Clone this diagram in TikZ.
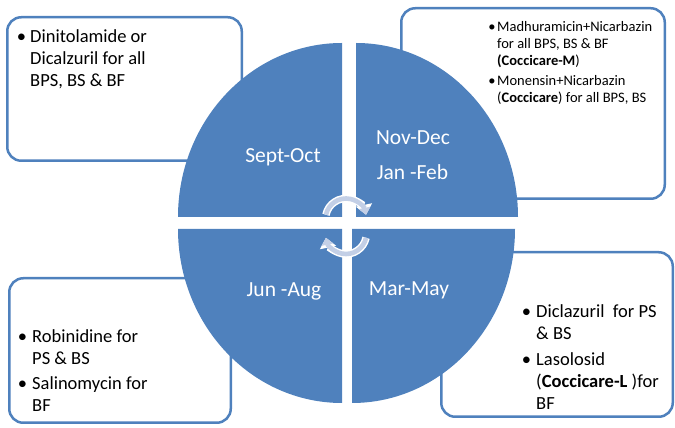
\documentclass[tikz,border=0pt]{standalone}
\usepackage{fontspec}
\setmainfont{Carlito}
\usetikzlibrary{arrows.meta}
\definecolor{qblue}{HTML}{4F81BD}
\definecolor{arrcol}{HTML}{C3CFE6}
\tikzset{
  box/.style={draw=qblue, line width=2.5pt, rounded corners=14pt, fill=white, inner sep=0pt},
  quad/.style={fill=qblue, draw=none},
  lbl/.style={text=white, anchor=base, inner sep=0pt, font=\fontsize{21.5}{26}\selectfont},
  txt/.style={anchor=base west, align=left, inner sep=0pt, font=\fontsize{18.5}{22}\selectfont},
  smalltxt/.style={anchor=base west, align=left, inner sep=0pt, font=\fontsize{14.5}{17}\selectfont},
  arrout/.style={line width=7.5pt, white, -{Triangle[width=16pt,length=10pt]}},
  arrin/.style={line width=4.6pt, arrcol, -{Triangle[width=11.5pt,length=7pt]}}
}
\begin{document}
\begin{tikzpicture}[x=1pt,y=1pt]
\useasboundingbox (0,0) rectangle (675,428);
% boxes
\node[box, minimum width=234.5pt, minimum height=143.5pt] (b1) at (124.5,339) {};
\node[box, minimum width=263.5pt, minimum height=190.5pt] (b2) at (533,324.5) {};
\node[box, minimum width=221.5pt, minimum height=144.5pt] (b3) at (120,77.5) {};
\node[box, minimum width=231.5pt, minimum height=164.5pt] (b4) at (557,93.5) {};
% quadrants
\path[quad] (342,211) -- (178,211) arc[start angle=180, end angle=90, x radius=164pt, y radius=174pt] -- cycle;
\path[quad] (356,211) -- (356,385) arc[start angle=90, end angle=0, x radius=162pt, y radius=174pt] -- cycle;
\path[quad] (342,199) -- (178,199) arc[start angle=180, end angle=270, x radius=164pt, y radius=174pt] -- cycle;
\path[quad] (352,199) -- (352,25) arc[start angle=270, end angle=360, x radius=163pt, y radius=174pt] -- cycle;
% labels
\node[lbl] (l1) at (283,265.3) {Sept-Oct};
\node[lbl] (l2) at (413,283) {Nov-Dec};
\node[lbl] (l2b) at (412.5,248) {Jan -Feb};
\node[lbl] (l3) at (284,131) {Jun -Aug};
\node[lbl] (l4) at (409,132) {Mar-May};
% cycle arrows
\coordinate (ca) at (346,209);
\coordinate (cb) at (346,194.5);
\draw[arrout] ([shift={(168:20.5pt)}]ca) arc[start angle=168, end angle=12, radius=20.5pt];
\draw[arrin] ([shift={(168:20.5pt)}]ca) arc[start angle=168, end angle=12, radius=20.5pt];
\draw[arrout] ([shift={(-12:20.5pt)}]cb) arc[start angle=-12, end angle=-168, radius=20.5pt];
\draw[arrin] ([shift={(-12:20.5pt)}]cb) arc[start angle=-12, end angle=-168, radius=20.5pt];
% texts (anchored at the baseline of their last line)
\node[txt] (t1) at (30,341) {\llap{•\hspace{4pt}}Dinitolamide or\\Dicalzuril for all\\BPS, BS \& BF};
\node[smalltxt] (t2) at (497,325.3) {\llap{•\hspace{1.5pt}}Madhuramicin+Nicarbazin\\for all BPS, BS \& BF\\\textbf{(Coccicare-M})\\[3.5pt]\llap{•\hspace{1.5pt}}Monensin+Nicarbazin\\(\textbf{Coccicare}) for all BPS, BS};
\node[txt] (t3) at (32,16.3) {\llap{•\hspace{5pt}}Robinidine for\\PS \& BS\\[3pt]\llap{•\hspace{5pt}}Salinomycin for\\BF};
\node[txt] (t4) at (536,18) {\llap{•\hspace{5pt}}Diclazuril\ \ for PS\\\& BS\\[4pt]\llap{•\hspace{5pt}}Lasolosid\\(\textbf{Coccicare-L} )for\\BF};
\end{tikzpicture}
\end{document}
